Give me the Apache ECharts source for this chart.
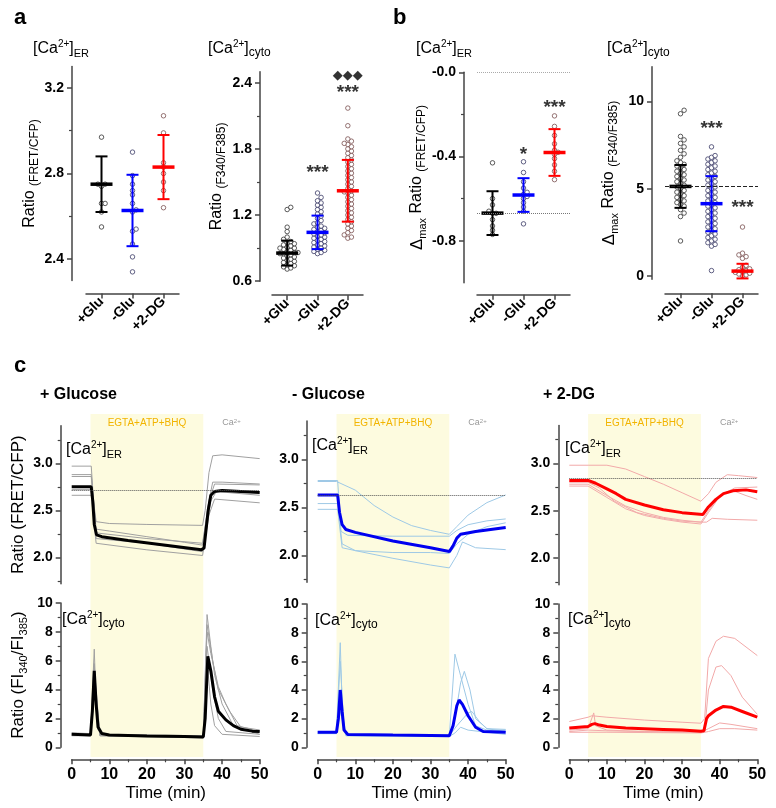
<!DOCTYPE html>
<html>
<head>
<meta charset="utf-8">
<script src="https://cdn.jsdelivr.net/npm/echarts@6/dist/echarts.min.js"></script>
<style>
  html, body { margin: 0; padding: 0; background: #fff; }
  #main { width: 776px; height: 808px; }
</style>
</head>
<body>
<div id="main"></div>
<script>
// ---- data: panel a / b (dot plots, mean +- SD) ----
var groups = ['+Glu', '-Glu', '+2-DG'];

var aErGlu   = [2.97, 2.75, 2.75, 2.74, 2.66, 2.66, 2.62, 2.55];
var aErNoGlu = [2.90, 2.79, 2.75, 2.72, 2.70, 2.66, 2.63, 2.62, 2.54, 2.53, 2.47, 2.41, 2.34];
var aErDg    = [3.07, 2.99, 2.85, 2.83, 2.80, 2.76, 2.72, 2.64];
var aErMean  = [2.75, 2.627, 2.83];
var aErSd    = [0.13, 0.167, 0.15];

var aCytoGlu   = [1.27, 1.25, 1.09, 1.05, 1.00, 0.98, 0.96, 0.95, 0.94, 0.93, 0.92, 0.91, 0.90, 0.90, 0.89, 0.88,
                  0.87, 0.86, 0.86, 0.85, 0.85, 0.84, 0.83, 0.82, 0.81, 0.80, 0.79, 0.78, 0.77, 0.76, 0.75, 0.74, 0.73, 0.72, 0.71];
var aCytoNoGlu = [1.40, 1.36, 1.33, 1.31, 1.29, 1.27, 1.25, 1.23, 1.21, 1.19, 1.17, 1.15, 1.13, 1.12, 1.10, 1.09, 1.08, 1.07,
                  1.06, 1.05, 1.04, 1.03, 1.02, 1.01, 1.00, 0.99, 0.98, 0.97, 0.96, 0.95, 0.94, 0.93, 0.92, 0.91, 0.90, 0.89, 0.88, 0.87, 0.86, 0.85];
var aCytoDg    = [2.17, 2.01, 1.89, 1.87, 1.85, 1.84, 1.82, 1.80, 1.78, 1.76, 1.74, 1.72, 1.70, 1.68, 1.66, 1.64, 1.62, 1.60,
                  1.58, 1.56, 1.54, 1.52, 1.50, 1.48, 1.46, 1.44, 1.42, 1.41, 1.40, 1.38, 1.36, 1.34, 1.32, 1.30, 1.28, 1.26,
                  1.24, 1.22, 1.20, 1.18, 1.16, 1.14, 1.12, 1.10, 1.08, 1.06, 1.04, 1.02, 1.00, 0.99];
var aCytoMean  = [0.855, 1.043, 1.42];
var aCytoSd    = [0.113, 0.152, 0.28];

var bErGlu   = [-0.43, -0.60, -0.63, -0.66, -0.67, -0.67, -0.70, -0.73, -0.75, -0.77];
var bErNoGlu = [-0.425, -0.476, -0.52, -0.55, -0.57, -0.58, -0.59, -0.60, -0.62, -0.64, -0.66, -0.72];
var bErDg    = [-0.207, -0.257, -0.30, -0.34, -0.37, -0.38, -0.39, -0.41, -0.44, -0.47, -0.51];
var bErMean  = [-0.669, -0.583, -0.381];
var bErSd    = [0.104, 0.08, 0.111];
var bErRefs  = [0, -0.669];

var bCytoGlu   = [9.5, 9.3, 8.0, 7.8, 7.6, 7.4, 7.2, 7.0, 6.8, 6.6, 6.5, 6.4, 6.3, 6.2, 6.1, 6.0, 5.9, 5.8, 5.7, 5.6,
                  5.5, 5.4, 5.3, 5.2, 5.1, 5.0, 4.9, 4.8, 4.7, 4.6, 4.5, 4.4, 4.3, 4.2, 4.1, 4.0, 3.8, 3.6, 3.4, 2.0];
var bCytoNoGlu = [7.4, 6.9, 6.8, 6.7, 6.6, 6.5, 6.4, 6.3, 6.2, 6.1, 6.0, 5.9, 5.8, 5.7, 5.6, 5.5, 5.4, 5.3, 5.2, 5.1,
                  5.0, 4.9, 4.8, 4.7, 4.6, 4.5, 4.4, 4.3, 4.2, 4.1, 4.0, 3.9, 3.8, 3.7, 3.6, 3.5, 3.4, 3.3, 3.2, 3.1,
                  3.0, 2.9, 2.8, 2.7, 2.6, 2.5, 2.4, 2.3, 2.2, 2.1, 2.0, 1.9, 1.8, 1.7, 0.3];
var bCytoDg    = [2.8, 1.3, 1.2, 1.1, 1.0, 0.6, 0.5, 0.4, 0.35, 0.3, 0.25, 0.2, 0.15, 0.1, 0.05, 0.0];
var bCytoMean  = [5.13, 4.14, 0.27];
var bCytoSd    = [1.23, 1.58, 0.42];
var bCytoRef   = 5.13;

// significance marks: [group index, y, text]
var aCytoStars = [[1, 1.58, '***'], [2, 2.31, '***'], [2, 2.46, '◆◆◆']];
var bErStars   = [[1, -0.39, '*'], [2, -0.17, '***']];
var bCytoStars = [[1, 8.45, '***'], [2, 3.9, '***']];

// ---- data: panel c (time courses, [min, ratio]) ----
var glucoseErMean = [[0,2.75],[5.2,2.75],[5.6,2.6],[6.0,2.35],[6.6,2.24],[8,2.22],[15,2.18],[25,2.13],[34.5,2.08],
                     [35.2,2.1],[36.3,2.5],[37,2.66],[38,2.7],[40,2.71],[45,2.7],[50,2.69]];
var glucoseErCells = [
  [[0,2.97],[5.2,2.97],[5.8,2.6],[6.5,2.38],[10,2.36],[20,2.35],[34.8,2.34],[35.5,2.5],[36.5,2.9],[37.5,3.08],[40,3.09],[50,3.05]],
  [[0,2.88],[5.2,2.88],[6.5,2.30],[10,2.28],[20,2.22],[30,2.16],[34.8,2.13],[36.5,2.6],[37.5,2.8],[40,2.8],[50,2.78]],
  [[0,2.86],[5.2,2.86],[6.5,2.26],[20,2.2],[34.8,2.15],[36.5,2.6],[38,2.78],[50,2.77]],
  [[0,2.66],[5.2,2.66],[6.5,2.15],[20,2.08],[34.8,2.02],[36.5,2.45],[38,2.62],[50,2.58]],
  [[0,2.72],[5.2,2.72],[6.5,2.2],[20,2.15],[34.8,2.06],[37,2.6],[38.5,2.7],[50,2.66]]
];
var glucoseCytoMean = [[0,0.9],[5,0.85],[5.5,2.5],[6,5.3],[6.5,3.0],[7,1.4],[8,0.95],[10,0.85],[20,0.78],[30,0.75],[35,0.72],
                       [35.5,2.0],[36.2,6.3],[37,5.3],[38,3.5],[39,2.5],[41,1.9],[43,1.5],[45,1.25],[48,1.12],[50,1.1]];
var glucoseCytoCells = [
  [[0,0.85],[5,0.8],[6,6.8],[6.5,3],[7.5,0.8],[35,0.7],[36,9.2],[37,7],[38,5],[40,3],[43,1.5],[50,0.9]],
  [[0,0.95],[5,0.9],[6,5.8],[7,1.2],[8,0.9],[35,0.75],[36,8.0],[37,6.5],[39,4.2],[41,3.0],[44,1.5],[50,1.1]],
  [[0,0.9],[5,0.85],[6,5],[7.5,0.85],[35,0.7],[36,7],[37.5,4],[39,2],[41,1.1],[50,0.9]],
  [[0,0.8],[5,0.8],[6,4.5],[7.5,0.8],[35,0.65],[36,6],[37,3],[38,1.5],[40,0.9],[50,0.75]],
  [[0,1.0],[5,0.95],[6,5.5],[7.5,0.9],[35,0.8],[36,8.5],[37.5,6],[39,4],[42,2.5],[45,1.4],[50,1.2]]
];

var noGluErMean = [[0,2.63],[5.3,2.63],[5.8,2.45],[6.5,2.32],[7.5,2.27],[10,2.24],[20,2.15],[30,2.08],[35,2.04],
                   [36,2.1],[37,2.18],[38,2.22],[42,2.25],[50,2.29]];
var noGluErCells = [
  [[0,2.77],[5,2.77],[10,2.68],[15,2.52],[20,2.4],[25,2.31],[30,2.26],[35,2.22],[37,2.3],[40,2.42],[45,2.55],[50,2.63]],
  [[0,2.78],[5.3,2.78],[6.2,2.25],[8,2.21],[20,2.2],[35,2.2],[37,2.26],[40,2.32],[45,2.36],[50,2.38]],
  [[0,2.54],[5.3,2.54],[6.5,2.12],[10,2.05],[20,1.97],[30,1.9],[35,1.87],[37,2.0],[38.5,2.14],[42,2.08],[50,2.06]],
  [[0,2.48],[5.3,2.48],[6.5,2.08],[10,2.05],[20,2.03],[30,2.03],[35,2.02],[37,2.12],[40,2.22],[45,2.3],[50,2.34]]
];
var noGluCytoMean = [[0,1.05],[5,1.05],[5.5,2],[6,4.0],[6.5,2.5],[7,1.2],[8,0.9],[20,0.85],[35,0.8],[36,1.5],[37,2.9],
                     [37.6,3.3],[38.5,3.0],[40,2.2],[42,1.4],[44,1.1],[50,1.05]];
var noGluCytoCells = [
  [[0,1.0],[5,1.0],[6,7.3],[6.6,2],[7.5,0.9],[35,0.8],[36.5,6.5],[38,5],[40,3],[42,1.5],[45,1.2],[50,1.2]],
  [[0,1.1],[5,1.1],[6,6.0],[7,1.2],[8,0.9],[35,0.85],[36.5,2],[38,4.5],[39,5.3],[40.5,4],[42,2],[45,1.3],[50,1.25]],
  [[0,1.0],[5,1.0],[6,3.5],[7.5,0.85],[35,0.8],[37,1.5],[40,2.4],[41,2.5],[43,1.8],[45,1.3],[50,1.1]],
  [[0,0.95],[5,0.95],[6,2.5],[7.5,0.8],[35,0.75],[36.5,1],[38,1.4],[40,1.2],[50,0.9]]
];

var dgErMean = [[0,2.82],[5,2.82],[7,2.79],[10,2.73],[12.5,2.68],[15,2.62],[20,2.56],[25,2.51],[30,2.48],[35.5,2.46],
                [37,2.54],[39,2.62],[41,2.68],[43.5,2.71],[47,2.72],[50,2.7]];
var dgErCells = [
  [[0,2.98],[5,2.98],[10,2.98],[15,2.94],[20,2.86],[25,2.78],[30,2.69],[35,2.6],[37,2.68],[39,2.8],[42,2.88],[45,2.87],[50,2.85]],
  [[0,2.78],[5,2.78],[10,2.66],[15,2.55],[20,2.48],[25,2.43],[30,2.4],[35,2.38],[37,2.5],[40,2.66],[43,2.72],[47,2.66],[50,2.62]],
  [[0,2.76],[5,2.76],[10,2.64],[15,2.52],[20,2.45],[25,2.41],[30,2.38],[35,2.36],[37,2.48],[40,2.65],[44,2.74],[50,2.75]],
  [[0,2.8],[5,2.8],[8,2.74],[12,2.6],[18,2.48],[25,2.42],[30,2.39],[35,2.38],[36.5,2.38],[38,2.42],[42,2.41],[50,2.4]]
];
var dgCytoMean = [[0,1.35],[5,1.45],[6,1.6],[6.8,1.65],[8,1.55],[10,1.45],[15,1.35],[20,1.3],[25,1.25],[30,1.2],[35,1.12],
                  [35.8,1.15],[36.5,2.0],[37,2.2],[39,2.6],[41,2.85],[43,2.8],[46,2.5],[50,2.1]];
var dgCytoCells = [
  [[0,1.8],[5,2.1],[6,2.2],[10,2.1],[20,1.9],[30,1.75],[35,1.68],[36,2],[37,6.2],[39,7.4],[41,7.75],[44,7.6],[47,7],[50,6.4]],
  [[0,1.2],[5,1.3],[6.5,2.4],[7,1.5],[10,1.2],[20,1.1],[35,1.05],[36,1.2],[37,4],[39,5.6],[40.5,5.7],[43,5],[46,3.5],[50,2.3]],
  [[0,1.1],[5,1.2],[10,1.15],[20,1.1],[35,1.05],[37,1.3],[40,1.7],[43,1.6],[50,1.3]],
  [[0,1.05],[10,1.05],[35,1.0],[37,1.1],[40,1.3],[44,1.3],[50,1.2]]
];
var erBaselines = [2.71, 2.63, 2.84];
var erTicks = [2.0, 2.5, 3.0];
var cytoTicks = [0, 2, 4, 6, 8, 10];

// ---- styles ----
var FONT = '"Liberation Sans", Arial, sans-serif';
var AX = '#444';
var GROUP_COLORS = ['#000000', '#0000ff', '#ff0000'];
var RING_COLORS = ['#333333', '#3b3b66', '#7a5050'];
var SHADE = '#fdfbdf';

var NAME_RICH = {
  r: { fontSize: 16, lineHeight: 22, color: '#000', fontFamily: FONT },
  rc: { fontSize: 17, lineHeight: 22, color: '#000', fontFamily: FONT },
  s: { fontSize: 12, lineHeight: 15, verticalAlign: 'bottom', color: '#000', fontFamily: FONT },
  d: { fontSize: 17, lineHeight: 22, color: '#000', fontFamily: FONT },
  m: { fontSize: 11, lineHeight: 12, verticalAlign: 'bottom', color: '#000', fontFamily: FONT }
};
var HEAD_RICH = {
  a: { fontSize: 16, lineHeight: 20, color: '#000', fontFamily: FONT },
  p: { fontSize: 10, lineHeight: 10, verticalAlign: 'top', color: '#000', fontFamily: FONT },
  s: { fontSize: 11, lineHeight: 11, verticalAlign: 'bottom', color: '#000', fontFamily: FONT },
  c: { fontSize: 12, lineHeight: 12, verticalAlign: 'bottom', color: '#000', fontFamily: FONT }
};
var ER_HEAD = '{a|[Ca}{p|2+}{a|]}{s|ER}';
var CYTO_HEAD = '{a|[Ca}{p|2+}{a|]}{c|cyto}';

var grids = [], xAxes = [], yAxes = [], series = [], titles = [];

function swarm(vals, cat, pxPerUnit, catPx) {
  // simple deterministic beeswarm: push to side lanes when rings would overlap
  var placed = [], out = [];
  var lanes = [0, 1, -1, 2, -2, 3, -3, 4, -4];
  var step = 3.6;
  vals.slice().sort(function (a, b) { return a - b; }).forEach(function (v) {
    for (var i = 0; i < lanes.length; i++) {
      var L = lanes[i];
      var ok = placed.every(function (p) { return p.lane !== L || Math.abs(p.v - v) * pxPerUnit >= 4; });
      if (ok) { placed.push({ v: v, lane: L }); out.push([cat + L * step / catPx, v]); return; }
    }
  });
  return out;
}

function meanSd(params, api) {
  var k = api.value(0), m = api.value(1), s = api.value(2);
  var c = api.coord([k, m]), t = api.coord([k, m + s]), b = api.coord([k, m - s]);
  var col = GROUP_COLORS[Math.round(k)];
  var st = { stroke: col, lineWidth: 2 };
  return { type: 'group', children: [
    { type: 'line', shape: { x1: c[0], y1: t[1], x2: c[0], y2: b[1] }, style: st },
    { type: 'line', shape: { x1: c[0] - 6, y1: t[1], x2: c[0] + 6, y2: t[1] }, style: st },
    { type: 'line', shape: { x1: c[0] - 6, y1: b[1], x2: c[0] + 6, y2: b[1] }, style: st },
    { type: 'line', shape: { x1: c[0] - 11, y1: c[1], x2: c[0] + 11, y2: c[1] }, style: { stroke: col, lineWidth: 3.5 } }
  ] };
}

function yAxisPair(gi, p, withName) {
  var yi = yAxes.length;
  yAxes.push({
    type: 'value', gridIndex: gi, position: 'left', min: p.min, max: p.max, offset: p.yOff,
    name: withName ? p.name : '', nameLocation: 'middle', nameGap: p.nameGap, nameRotate: 90,
    nameTextStyle: { rich: NAME_RICH },
    axisLine: { show: true, onZero: false, lineStyle: { color: AX, width: 1.5 } },
    splitLine: { show: false },
    axisTick: { customValues: p.ticks, length: 5, lineStyle: { color: AX, width: 1.5 } },
    axisLabel: { customValues: p.ticks, formatter: p.fmt, color: '#000', fontWeight: 'bold', fontSize: 14, fontFamily: FONT, margin: 8 }
  });
  if (p.minor) {
    yAxes.push({
      type: 'value', gridIndex: gi, position: 'left', min: p.min, max: p.max, offset: p.yOff,
      axisLine: { show: false, onZero: false }, splitLine: { show: false }, axisLabel: { show: false },
      axisTick: { customValues: p.minor, length: 3, lineStyle: { color: AX, width: 1.2 } }
    });
  }
  return yi;
}

function dotPanel(p) {
  var gi = grids.length;
  grids.push({ left: p.left, top: p.top, width: p.width, height: p.height });
  var xi = xAxes.length;
  xAxes.push({
    type: 'value', gridIndex: gi, min: -0.5, max: 2.5, offset: p.xOff,
    axisLine: { onZero: false, lineStyle: { color: AX, width: 1.5 } }, splitLine: { show: false },
    axisTick: { customValues: [0, 1, 2], length: 5, lineStyle: { color: AX, width: 1.5 } },
    axisLabel: { customValues: [0, 1, 2], rotate: 45, formatter: function (v) { return groups[Math.round(v)]; },
                 color: '#000', fontWeight: 'bold', fontSize: 14, fontFamily: FONT, margin: 6 }
  });
  var yi = yAxisPair(gi, p, true);
  var pxPerUnit = p.height / (p.max - p.min), catPx = p.width / 3;
  p.vals.forEach(function (vals, k) {
    var s = {
      type: 'scatter', xAxisIndex: xi, yAxisIndex: yi, silent: true, z: 2,
      data: swarm(vals, k, pxPerUnit, catPx), symbolSize: 4.5,
      itemStyle: { color: '#fff', borderColor: RING_COLORS[k], borderWidth: 1 }
    };
    if (k === 0 && p.refs) {
      s.markLine = { silent: true, symbol: 'none', label: { show: false },
        data: p.refs.map(function (r, i) {
          return { yAxis: r, lineStyle: { type: p.refType || 'dotted', color: (p.refColors || [])[i] || '#555', width: 1 } };
        }) };
    }
    series.push(s);
  });
  series.push({
    type: 'custom', xAxisIndex: xi, yAxisIndex: yi, z: 3, silent: true,
    data: p.mean.map(function (m, k) { return [k, m, p.sd[k]]; }), renderItem: meanSd
  });
  if (p.stars) {
    series.push({
      type: 'scatter', xAxisIndex: xi, yAxisIndex: yi, symbolSize: 1, silent: true, z: 4,
      itemStyle: { color: 'rgba(0,0,0,0)' },
      data: p.stars.map(function (s) {
        var item = { value: [s[0], s[1]], name: s[2] };
        if (s[2].indexOf('◆') >= 0) item.label = { fontFamily: 'DejaVu Sans', fontSize: 13, fontWeight: 'normal' };
        return item;
      }),
      label: { show: true, position: 'inside', formatter: '{b}', color: '#000', fontSize: 19, fontWeight: 'bold', fontFamily: FONT }
    });
  }
}

function traceColumn(c) {
  // shaded bath-application window spanning both rows
  var gb = grids.length;
  grids.push({ left: c.left, top: 414, width: 188, height: 343 });
  var xb = xAxes.length;
  xAxes.push({ type: 'value', gridIndex: gb, min: 0, max: 50, show: false });
  var yb = yAxes.length;
  yAxes.push({ type: 'value', gridIndex: gb, min: 0, max: 1, show: false });
  series.push({
    type: 'line', xAxisIndex: xb, yAxisIndex: yb, data: [[0, 0]], showSymbol: false, lineStyle: { opacity: 0 }, z: 0, silent: true,
    markArea: { silent: true, data: [
      [{ xAxis: 5, itemStyle: { color: SHADE },
         label: { show: true, position: 'insideTop', distance: 4, formatter: 'EGTA+ATP+BHQ', color: '#f2b400', fontSize: 10, fontFamily: FONT } },
       { xAxis: 35 }],
      [{ xAxis: 35, itemStyle: { color: 'rgba(0,0,0,0)' },
         label: { show: true, position: 'insideTop', distance: 4, formatter: '{a|Ca}{b|2+}', color: '#999',
                  rich: { a: { fontSize: 9, color: '#999', fontFamily: FONT }, b: { fontSize: 6, color: '#999', verticalAlign: 'top', fontFamily: FONT } } } },
       { xAxis: 50 }]
    ] }
  });

  // ER row
  var ge = grids.length;
  grids.push({ left: c.left, top: c.erTop, width: 188, height: c.erH });
  var xe = xAxes.length;
  xAxes.push({ type: 'value', gridIndex: ge, min: 0, max: 50, show: false });
  var ye = yAxisPair(ge, {
    min: 1.72, max: 3.4, yOff: 11, ticks: erTicks, minor: [1.75, 2.25, 2.75, 3.25],
    fmt: function (v) { return v.toFixed(1); }, name: '{rc|Ratio (FRET/CFP)}', nameGap: 31
  }, c.names);
  c.erCells.forEach(function (d, i) {
    var s = { type: 'line', xAxisIndex: xe, yAxisIndex: ye, data: d, showSymbol: false, silent: true, z: 2,
              lineStyle: { color: c.light, width: 1 } };
    if (i === 0) {
      s.markLine = { silent: true, symbol: 'none', label: { show: false },
                     lineStyle: { type: 'dotted', color: '#555', width: 1 }, data: [{ yAxis: c.baseline }] };
    }
    series.push(s);
  });
  series.push({ type: 'line', xAxisIndex: xe, yAxisIndex: ye, data: c.erMean, showSymbol: false, silent: true, z: 3,
                lineStyle: { color: c.color, width: 3 } });

  // cytosolic row
  var gc = grids.length;
  grids.push({ left: c.left, top: c.cyTop, width: 188, height: 747.3 - c.cyTop });
  var xc = xAxes.length;
  xAxes.push({
    type: 'value', gridIndex: gc, min: 0, max: 50, interval: 10, offset: 12,
    name: 'Time (min)', nameLocation: 'middle', nameGap: 26,
    nameTextStyle: { fontSize: 17, color: '#000', fontFamily: FONT },
    axisLine: { onZero: false, lineStyle: { color: AX, width: 1.5 } }, splitLine: { show: false },
    axisTick: { length: 5, lineStyle: { color: AX, width: 1.5 } },
    minorTick: { show: true, splitNumber: 2, length: 3, lineStyle: { color: AX, width: 1.2 } },
    axisLabel: { color: '#000', fontWeight: 'bold', fontSize: 16, fontFamily: FONT, margin: 7 }
  });
  var yc = yAxisPair(gc, {
    min: 0, max: 10, yOff: 11, ticks: cytoTicks, minor: [1, 3, 5, 7, 9],
    fmt: function (v) { return String(v); },
    name: '{rc|Ratio (FI}{m|340}{rc|/FI}{m|385}{rc|)}', nameGap: 31
  }, c.names);
  c.cyCells.forEach(function (d) {
    series.push({ type: 'line', xAxisIndex: xc, yAxisIndex: yc, data: d, showSymbol: false, silent: true, z: 2,
                  lineStyle: { color: c.light, width: 1 } });
  });
  series.push({ type: 'line', xAxisIndex: xc, yAxisIndex: yc, data: c.cyMean, showSymbol: false, silent: true, z: 3,
                lineStyle: { color: c.color, width: 3 } });
}

// ---- panel a ----
dotPanel({ left: 86, top: 66.6, width: 93, height: 213.8, yOff: 14, xOff: 13,
  min: 2.3, max: 3.3, ticks: [2.4, 2.8, 3.2], minor: [2.6, 3.0], fmt: function (v) { return v.toFixed(1); },
  name: '{r|Ratio }{s|(FRET/CFP)}', nameGap: 30,
  vals: [aErGlu, aErNoGlu, aErDg], mean: aErMean, sd: aErSd });
dotPanel({ left: 272, top: 71.7, width: 91, height: 209.5, yOff: 12, xOff: 14,
  min: 0.6, max: 2.5, ticks: [0.6, 1.2, 1.8, 2.4], minor: [0.9, 1.5, 2.1], fmt: function (v) { return v.toFixed(1); },
  name: '{r|Ratio }{s|(F340/F385)}', nameGap: 32,
  vals: [aCytoGlu, aCytoNoGlu, aCytoDg], mean: aCytoMean, sd: aCytoSd, stars: aCytoStars });
// ---- panel b ----
dotPanel({ left: 477, top: 72.3, width: 93, height: 210.5, yOff: 13, xOff: 12,
  min: -1, max: 0, ticks: [-0.8, -0.4, 0], minor: [-0.6, -0.2], fmt: function (v) { return '-' + Math.abs(v).toFixed(1); },
  name: '{d|Δ}{m|max}{r| Ratio }{s|(FRET/CFP)}', nameGap: 32,
  vals: [bErGlu, bErNoGlu, bErDg], mean: bErMean, sd: bErSd, stars: bErStars,
  refs: bErRefs, refColors: ['#aaa', '#777'] });
dotPanel({ left: 665, top: 66.7, width: 93, height: 212.6, yOff: 13, xOff: 14,
  min: -0.2, max: 12, ticks: [0, 5, 10], fmt: function (v) { return String(v); },
  name: '{d|Δ}{m|max}{r| Ratio }{s|(F340/F385)}', nameGap: 32,
  vals: [bCytoGlu, bCytoNoGlu, bCytoDg], mean: bCytoMean, sd: bCytoSd, stars: bCytoStars,
  refs: [bCytoRef], refType: 'dashed', refColors: ['#222'] });

// ---- panel c ----
traceColumn({ left: 71.7, erTop: 425.7, erH: 158, cyTop: 603, names: true, color: '#000', light: '#a0a0a0',
  baseline: erBaselines[0], erMean: glucoseErMean, erCells: glucoseErCells, cyMean: glucoseCytoMean, cyCells: glucoseCytoCells });
traceColumn({ left: 317.7, erTop: 421, erH: 161.3, cyTop: 604, names: false, color: '#0000f0', light: '#9ec9e6',
  baseline: erBaselines[1], erMean: noGluErMean, erCells: noGluErCells, cyMean: noGluCytoMean, cyCells: noGluCytoCells });
traceColumn({ left: 569.3, erTop: 425.4, erH: 159.3, cyTop: 604, names: false, color: '#ff0000', light: '#f2a9a9',
  baseline: erBaselines[2], erMean: dgErMean, erCells: dgErCells, cyMean: dgCytoMean, cyCells: dgCytoCells });

// ---- text labels ----
function addTitle(text, left, top, size, bold) {
  titles.push({ text: text, left: left, top: top, padding: 0,
    textStyle: { fontSize: size || 16, fontWeight: bold ? 'bold' : 'normal', color: '#000', fontFamily: FONT, rich: HEAD_RICH } });
}
addTitle('a', 14, 7, 22, true);
addTitle('b', 393, 7, 22, true);
addTitle('c', 14, 355, 22, true);
addTitle(ER_HEAD, 33, 39);
addTitle(CYTO_HEAD, 208, 39);
addTitle(ER_HEAD, 416, 39);
addTitle(CYTO_HEAD, 607, 39);
addTitle('+ Glucose', 40, 387, 16, true);
addTitle('- Glucose', 292, 387, 16, true);
addTitle('+ 2-DG', 543, 387, 16, true);
addTitle(ER_HEAD, 66, 440);
addTitle(ER_HEAD, 312, 436);
addTitle(ER_HEAD, 565, 439);
addTitle(CYTO_HEAD, 62, 610);
addTitle(CYTO_HEAD, 315, 611);
addTitle(CYTO_HEAD, 568, 610);

var chart = echarts.init(document.getElementById('main'));
chart.setOption({
  animation: false,
  backgroundColor: '#fff',
  textStyle: { fontFamily: FONT },
  title: titles,
  grid: grids,
  xAxis: xAxes,
  yAxis: yAxes,
  series: series
});
</script>
</body>
</html>
